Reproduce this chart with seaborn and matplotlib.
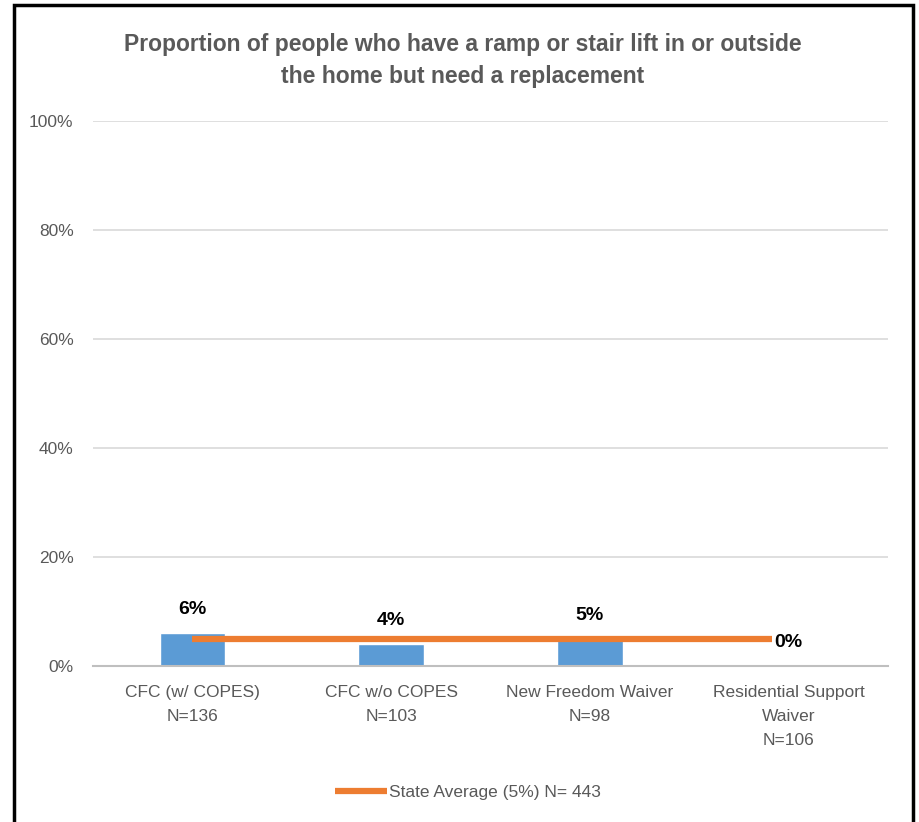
import matplotlib
matplotlib.use("Agg")
import matplotlib.pyplot as plt
import matplotlib.patches as mpatches
from matplotlib.ticker import PercentFormatter
import seaborn as sns
import pandas as pd

# data
programs = ["CFC (w/ COPES)\nN=136", "CFC w/o COPES\nN=103",
            "New Freedom Waiver\nN=98", "Residential Support\nWaiver\nN=106"]
pct_values = [6, 4, 5, 0]
state_avg = [5, 5, 5, 5]
legend_label = "State Average (5%) N= 443"
title = ("Proportion of people who have a ramp or stair lift in or outside\n"
         "the home but need a replacement")

sns.set_theme(style="white")
plt.rcParams["font.family"] = ["Liberation Sans", "DejaVu Sans"]

grey = "#595959"
blue = "#5b9bd5"
orange = "#ed7d31"

df = pd.DataFrame({"program": programs, "pct": pct_values, "avg": state_avg})

fig = plt.figure(figsize=(9.2, 8.22), dpi=100)
ax = fig.add_axes([93 / 920, 1 - 666 / 822, 795 / 920, 545 / 822])

sns.barplot(data=df, x="program", y="pct", color=blue, width=0.33,
            saturation=1, ax=ax, zorder=2)
avg_line, = ax.plot(range(len(programs)), df["avg"], color=orange, lw=4.5,
                    solid_capstyle="butt", zorder=3, label=legend_label)

for i, v in enumerate(pct_values):
    ax.annotate(f"{v}%", (i, v), xytext=(0, 17), textcoords="offset points",
                ha="center", va="center", fontsize=14, fontweight="bold",
                color="black", zorder=4,
                bbox=dict(boxstyle="square,pad=0.12", fc="white", ec="none"))

ax.set_ylim(0, 100)
ax.set_xlim(-0.5, len(programs) - 0.5)
ax.set_yticks(range(0, 101, 20))
ax.yaxis.set_major_formatter(PercentFormatter(decimals=0))
ax.grid(axis="y", color="#d9d9d9", lw=1.2, zorder=0)
ax.set_axisbelow(True)
for s in ["top", "right", "left"]:
    ax.spines[s].set_visible(False)
ax.spines["bottom"].set_color("#bfbfbf")
ax.spines["bottom"].set_linewidth(1.5)
ax.tick_params(axis="both", length=0, labelsize=12.5, labelcolor=grey)
ax.tick_params(axis="y", pad=14)
ax.tick_params(axis="x", pad=14)
for lbl in ax.get_xticklabels():
    lbl.set_linespacing(1.75)
ax.set_xlabel("")
ax.set_ylabel("")

fig.text(0.503, 1 - 60 / 822, title, ha="center", va="center",
         fontsize=16.5, fontweight="bold", color=grey, linespacing=1.5)

leg = fig.legend(handles=[avg_line], loc="center",
                 bbox_to_anchor=(468 / 920, 1 - 792 / 822), frameon=False,
                 fontsize=12.5, handlelength=3.0, handletextpad=0.1,
                 labelcolor=grey)

fig.patches.append(mpatches.Rectangle((14 / 920, -0.02), 899 / 920, 1.02 - 5 / 822,
                                      transform=fig.transFigure, fill=False,
                                      ec="black", lw=2.5))

fig.savefig("out.png", dpi=100, facecolor="white")
